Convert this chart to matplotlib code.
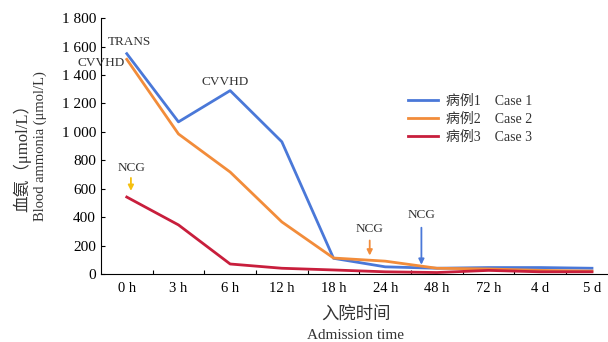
import matplotlib
matplotlib.use("Agg")
import matplotlib.pyplot as plt
import numpy as np

categories = ["0 h", "3 h", "6 h", "12 h", "18 h", "24 h", "48 h", "72 h", "4 d", "5 d"]
case1 = [1550, 1070, 1290, 930, 110, 50, 40, 45, 45, 40]
case2 = [1510, 985, 717, 366, 112, 90, 40, 35, 25, 20]
case3 = [541, 345, 70, 40, 28, 15, 10, 25, 15, 15]
yticks = [0, 200, 400, 600, 800, 1000, 1200, 1400, 1600, 1800]
ytick_labels = ["0", "200", "400", "600", "800", "1 000", "1 200", "1 400", "1 600", "1 800"]

FAM = ["Liberation Serif", "Noto Sans CJK SC"]
plt.rcParams["font.family"] = FAM

blue = "#4a78d8"
orange = "#f28c3a"
red = "#c81e3c"
yellow = "#f5c010"

fig = plt.figure(figsize=(6.08, 3.42), dpi=100)
ax = fig.add_axes([0.166, 0.199, 0.834, 0.748])

x = np.arange(len(categories)) + 0.5
ax.plot(x, case1, color=blue, lw=2.0, label="病例1    Case 1")
ax.plot(x, case2, color=orange, lw=2.0, label="病例2    Case 2")
ax.plot(x, case3, color=red, lw=2.0, label="病例3    Case 3")

ax.set_xlim(0, 9.81)
ax.set_ylim(0, 1800)
ax.set_yticks(yticks)
ax.set_yticklabels(ytick_labels, fontsize=11)
ax.set_xticks(np.arange(1, 10))
ax.set_xticklabels([])
ax.set_xticks(x, minor=True)
ax.set_xticklabels(categories, minor=True, fontsize=10.5)
ax.tick_params(axis="x", which="minor", length=0, pad=6)
ax.tick_params(axis="x", which="major", direction="in", length=3)
ax.tick_params(axis="y", direction="in", length=3)
for s in ["top", "right"]:
    ax.spines[s].set_visible(False)

# annotations
afs = 9.5
ax.text(0.56, 1590, "TRANS", fontsize=afs, color="#333333", ha="center", va="bottom")
ax.text(0.47, 1445, "CVVHD", fontsize=afs, color="#333333", ha="right", va="bottom")
ax.text(2.4, 1310, "CVVHD", fontsize=afs, color="#333333", ha="center", va="bottom")
ax.text(0.6, 700, "NCG", fontsize=afs, color="#333333", ha="center", va="bottom")
ax.annotate("", xy=(0.58, 565), xytext=(0.58, 695),
            arrowprops=dict(arrowstyle="-|>", color=yellow, lw=1.3, mutation_scale=8))
ax.text(5.2, 275, "NCG", fontsize=afs, color="#333333", ha="center", va="bottom")
ax.annotate("", xy=(5.2, 110), xytext=(5.2, 255),
            arrowprops=dict(arrowstyle="-|>", color=orange, lw=1.3, mutation_scale=8))
ax.text(6.2, 375, "NCG", fontsize=afs, color="#333333", ha="center", va="bottom")
ax.annotate("", xy=(6.2, 45), xytext=(6.2, 345),
            arrowprops=dict(arrowstyle="-|>", color=blue, lw=1.3, mutation_scale=8))

leg = ax.legend(loc="upper left", bbox_to_anchor=(0.58, 0.75), frameon=False,
                fontsize=10, handlelength=2.2, labelspacing=0.35, handletextpad=0.6,
                labelcolor="#333333")

fig.text(0.037, 0.55, "血氨（μmol/L）", rotation=90, ha="center", va="center",
         fontsize=12, color="#333333")
fig.text(0.067, 0.573, "Blood ammonia (μmol/L)", rotation=90, ha="center", va="center",
         fontsize=10.5, color="#333333")
fig.text(0.585, 0.08, "入院时间", ha="center", va="center", fontsize=12.5,
         color="#333333")
fig.text(0.585, 0.018, "Admission time", ha="center", va="center", fontsize=11,
         color="#333333")

fig.savefig("out.png", dpi=100)
